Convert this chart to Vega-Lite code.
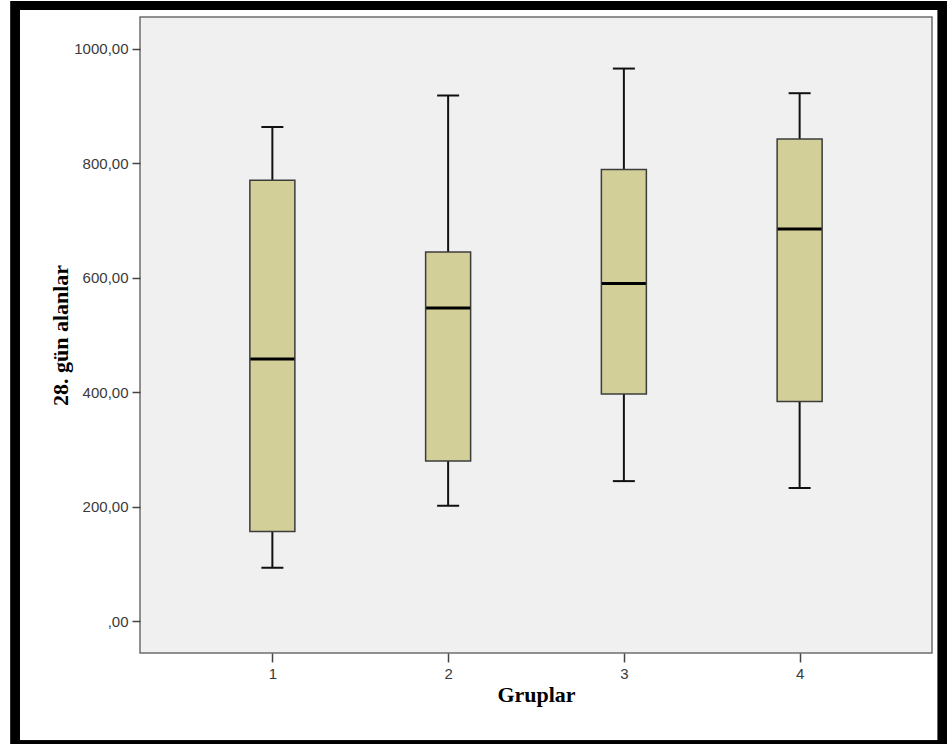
{
  "$schema": "https://vega.github.io/schema/vega-lite/v6.json",
  "autosize": {"type": "none"},
  "padding": {"left": 140, "top": 17, "right": 19, "bottom": 91},
  "width": 792,
  "height": 636,
  "background": "white",
  "config": {
    "view": {"fill": "#f0f0f0", "stroke": "#6e6e6e", "strokeWidth": 1.5}
  },
  "data": {
    "values": [
      {"grup": 1, "min": 94, "q1": 157, "median": 458, "q3": 770, "max": 863},
      {"grup": 2, "min": 202, "q1": 280, "median": 547, "q3": 645, "max": 918},
      {"grup": 3, "min": 245, "q1": 397, "median": 590, "q3": 789, "max": 965},
      {"grup": 4, "min": 233, "q1": 384, "median": 685, "q3": 842, "max": 922}
    ]
  },
  "encoding": {
    "x": {
      "field": "grup",
      "type": "quantitative",
      "scale": {"domain": [0.27528, 4.72472], "nice": false, "zero": false},
      "axis": {
        "values": [1, 2, 3, 4],
        "format": "d",
        "title": "Gruplar",
        "grid": false,
        "domain": false,
        "tickSize": 9,
        "tickWidth": 1.5,
        "tickColor": "#444444",
        "labelFont": "Liberation Sans",
        "labelFontSize": 15,
        "labelColor": "#3a3a3a",
        "labelPadding": 4,
        "titleFont": "Liberation Serif",
        "titleFontWeight": "bold",
        "titleFontSize": 22,
        "titleColor": "#000000",
        "titlePadding": 3
      }
    }
  },
  "layer": [
    {
      "mark": {"type": "rule", "color": "#111111", "strokeWidth": 2},
      "encoding": {
        "y": {
          "field": "min",
          "type": "quantitative",
          "scale": {"domain": [-55, 1055], "nice": false, "zero": false},
          "axis": {
            "values": [0, 200, 400, 600, 800, 1000],
            "labelExpr": "datum.value == 0 ? ',00' : replace(format(datum.value, '.2f'), '.', ',')",
            "title": "28. gün alanlar",
            "grid": false,
            "domain": false,
            "tickSize": 8,
            "tickWidth": 1.5,
            "tickColor": "#444444",
            "labelFont": "Liberation Sans",
            "labelFontSize": 15,
            "labelColor": "#3a3a3a",
            "labelPadding": 4,
            "titleFont": "Liberation Serif",
            "titleFontWeight": "bold",
            "titleFontSize": 22,
            "titleColor": "#000000",
            "titlePadding": 1
          }
        },
        "y2": {"field": "q1"}
      }
    },
    {
      "mark": {"type": "rule", "color": "#111111", "strokeWidth": 2},
      "encoding": {
        "y": {"field": "q3", "type": "quantitative"},
        "y2": {"field": "max"}
      }
    },
    {
      "mark": {"type": "tick", "orient": "horizontal", "size": 22, "thickness": 2, "color": "#111111", "opacity": 1},
      "encoding": {
        "y": {"field": "min", "type": "quantitative"}
      }
    },
    {
      "mark": {"type": "tick", "orient": "horizontal", "size": 22, "thickness": 2, "color": "#111111", "opacity": 1},
      "encoding": {
        "y": {"field": "max", "type": "quantitative"}
      }
    },
    {
      "mark": {"type": "bar", "orient": "vertical", "size": 45, "fill": "#d3cf98", "stroke": "#3c3c3c", "strokeWidth": 1.5},
      "encoding": {
        "y": {"field": "q1", "type": "quantitative"},
        "y2": {"field": "q3"}
      }
    },
    {
      "mark": {"type": "tick", "orient": "horizontal", "size": 44, "thickness": 3, "color": "#000000", "opacity": 1},
      "encoding": {
        "y": {"field": "median", "type": "quantitative"}
      }
    },
    {
      "mark": {"type": "rect", "fill": "transparent", "stroke": "#000000", "strokeWidth": 9, "clip": false},
      "encoding": {
        "x": {"datum": -0.4635, "type": "quantitative"},
        "x2": {"datum": 4.8118},
        "y": {"datum": 1075.1, "type": "quantitative"},
        "y2": {"datum": -215.6}
      }
    }
  ]
}
